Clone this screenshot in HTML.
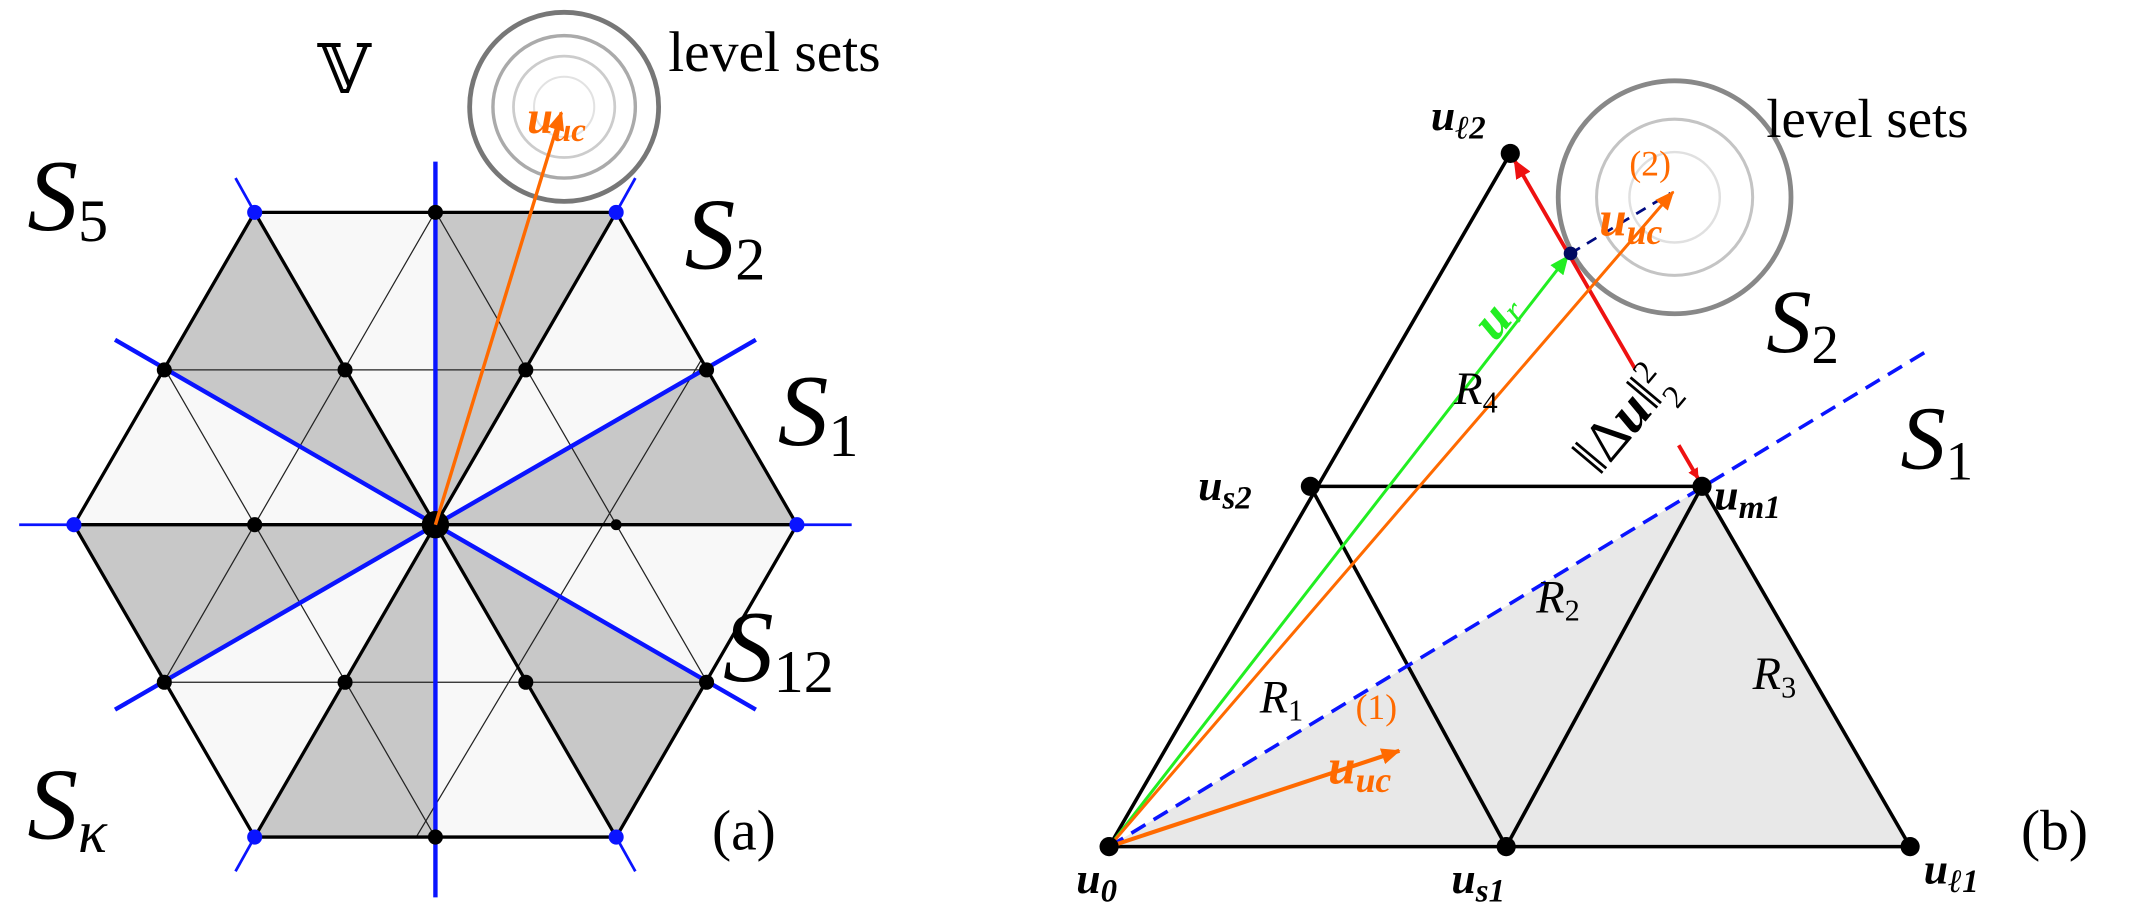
<!DOCTYPE html>
<html><head><meta charset="utf-8"><style>
html,body{margin:0;padding:0;background:#fff;width:2147px;height:922px;overflow:hidden;}
svg{display:block;}
text{font-family:"Liberation Serif","DejaVu Serif",serif;}
.b{font-weight:bold;font-style:italic;}
.s{font-style:italic;}
</style></head><body>
<svg width="2147" height="922" viewBox="0 0 1568 673" preserveAspectRatio="none" xmlns="http://www.w3.org/2000/svg">
<defs>
<clipPath id="hx"><polygon points="582,383 450,155 186,155 54,383 186,611 450,611"/></clipPath>
<marker id="ar" markerWidth="8" markerHeight="8" refX="7" refY="4" orient="auto" markerUnits="userSpaceOnUse"><path d="M0,0 L8,4 L0,8 z" fill="#ee1111"/></marker>
<marker id="ao2" markerWidth="14" markerHeight="12" refX="13" refY="6" orient="auto" markerUnits="userSpaceOnUse"><path d="M0,0 L14,6 L0,12 z" fill="#ff6a00"/></marker>
<marker id="ag2" markerWidth="14" markerHeight="12" refX="13" refY="6" orient="auto" markerUnits="userSpaceOnUse"><path d="M0,0 L14,6 L0,12 z" fill="#22ee22"/></marker>
<marker id="ar2" markerWidth="14" markerHeight="12" refX="13" refY="6" orient="auto" markerUnits="userSpaceOnUse"><path d="M0,0 L14,6 L0,12 z" fill="#ee1111"/></marker>
</defs>

<!-- Panel (a) -->
<polygon points="582,383 450,155 186,155 54,383 186,611 450,611" fill="#f8f8f8"/>
<g clip-path="url(#hx)" fill="#c8c8c8">
<polygon points="318,383 818,383 801,254 751,133"/>
<polygon points="318,383 568,-50 447,-100 318,-117"/>
<polygon points="318,383 68,-50 -36,29 -115,133"/>
<polygon points="318,383 -182,383 -165,512 -115,633"/>
<polygon points="318,383 68,816 189,866 318,883"/>
<polygon points="318,383 568,816 672,737 751,633"/>
</g>
<g clip-path="url(#hx)" stroke="#222" stroke-width="0.9" fill="none">
<line x1="0" y1="270" x2="640" y2="270"/>
<line x1="0" y1="498" x2="640" y2="498"/>
<line x1="-55" y1="800" x2="465" y2="-100"/>
<line x1="191" y1="800" x2="729" y2="-100"/>
<line x1="-93" y1="-100" x2="427" y2="800"/>
<line x1="171" y1="-100" x2="691" y2="800"/>
</g>
<g stroke="#000" stroke-width="2.4" fill="none">
<line x1="54" y1="383" x2="582" y2="383"/>
<line x1="186" y1="155" x2="450" y2="611"/>
<line x1="450" y1="155" x2="186" y2="611"/>
<polygon points="582,383 450,155 186,155 54,383 186,611 450,611"/>
</g>
<g stroke="#0a14ff" stroke-width="3.2">
<line x1="318" y1="118" x2="318" y2="655"/>
<line x1="84" y1="248" x2="552" y2="518"/>
<line x1="84" y1="518" x2="552" y2="248"/>
</g>
<g stroke="#0a14ff" stroke-width="2">
<line x1="54" y1="383" x2="14" y2="383"/>
<line x1="582" y1="383" x2="622" y2="383"/>
<line x1="186" y1="155" x2="172" y2="130"/>
<line x1="450" y1="155" x2="464" y2="130"/>
<line x1="186" y1="611" x2="172" y2="636"/>
<line x1="450" y1="611" x2="464" y2="636"/>
</g>
<g fill="#0a14ff">
<circle cx="54" cy="383" r="5.5"/><circle cx="582" cy="383" r="5.5"/>
<circle cx="186" cy="155" r="5.5"/><circle cx="450" cy="155" r="5.5"/>
<circle cx="186" cy="611" r="5.5"/><circle cx="450" cy="611" r="5.5"/>
</g>
<g fill="#000">
<circle cx="318" cy="155" r="5.5"/><circle cx="318" cy="611" r="5.5"/>
<circle cx="120" cy="270" r="5.5"/><circle cx="252" cy="270" r="5.5"/>
<circle cx="384" cy="270" r="5.5"/><circle cx="516" cy="270" r="5.5"/>
<circle cx="120" cy="498" r="5.5"/><circle cx="252" cy="498" r="5.5"/>
<circle cx="384" cy="498" r="5.5"/><circle cx="516" cy="498" r="5.5"/>
<circle cx="186" cy="383" r="5.5"/><circle cx="450" cy="383" r="4"/>
<circle cx="318" cy="383" r="10"/>
</g>
<!-- level sets (a) -->
<circle cx="412" cy="78" r="69" fill="#fff" stroke="#777" stroke-width="3.5"/>
<circle cx="412" cy="78" r="52" fill="none" stroke="#aaa" stroke-width="2.5"/>
<circle cx="412" cy="78" r="37" fill="none" stroke="#ccc" stroke-width="2"/>
<circle cx="412" cy="78" r="22" fill="none" stroke="#e2e2e2" stroke-width="1.5"/>
<line x1="318" y1="383" x2="410" y2="82" stroke="#ff6a00" stroke-width="2.5" marker-end="url(#ao2)"/>
<text x="385" y="97" class="b" font-size="34" fill="#ff6a00">u<tspan font-size="24" dy="6">uc</tspan></text>
<text x="488" y="52" font-size="42">level sets</text>
<text x="232" y="68" font-size="50" font-family="DejaVu Sans, sans-serif">𝕍</text>
<text x="20" y="168" class="s" font-size="74">S<tspan font-size="44" font-style="normal" dy="8">5</tspan></text>
<text x="500" y="196" class="s" font-size="74">S<tspan font-size="44" font-style="normal" dy="8">2</tspan></text>
<text x="568" y="325" class="s" font-size="74">S<tspan font-size="44" font-style="normal" dy="8">1</tspan></text>
<text x="528" y="497" class="s" font-size="74">S<tspan font-size="44" font-style="normal" dy="8">12</tspan></text>
<text x="20" y="612" class="s" font-size="74">S<tspan font-size="44" dy="10">κ</tspan></text>
<text x="520" y="620" font-size="42">(a)</text>

<!-- Panel (b) -->
<polygon points="810,618 1395,618 1243,356" fill="#e8e8e8"/>
<g stroke="#000" stroke-width="2.6" fill="none">
<line x1="810" y1="618" x2="1103" y2="112"/>
<line x1="810" y1="618" x2="1395" y2="618"/>
<line x1="1395" y1="618" x2="1243" y2="355"/>
<line x1="957" y1="355" x2="1243" y2="355"/>
<line x1="957" y1="355" x2="1100" y2="618"/>
<line x1="1100" y1="618" x2="1243" y2="355"/>
</g>
<line x1="810" y1="618" x2="1411" y2="254" stroke="#0a14ff" stroke-width="2.6" stroke-dasharray="12,7"/>
<circle cx="1223" cy="144" r="85" fill="none" stroke="#888" stroke-width="3.5"/>
<circle cx="1223" cy="144" r="57" fill="none" stroke="#c4c4c4" stroke-width="2.2"/>
<circle cx="1223" cy="144" r="33" fill="none" stroke="#e0e0e0" stroke-width="1.8"/>
<line x1="1194" y1="269" x2="1106" y2="117" stroke="#ee1111" stroke-width="2.8" marker-end="url(#ar2)"/>
<line x1="1226" y1="325" x2="1240" y2="349" stroke="#ee1111" stroke-width="2.8" marker-end="url(#ar)"/>
<line x1="1147" y1="185" x2="1220" y2="141" stroke="#000a80" stroke-width="2" stroke-dasharray="8,6"/>
<line x1="810" y1="618" x2="1145" y2="187" stroke="#22ee22" stroke-width="2.2" marker-end="url(#ag2)"/>
<line x1="810" y1="618" x2="1222" y2="140" stroke="#ff6a00" stroke-width="2.2" marker-end="url(#ao2)"/>
<line x1="810" y1="618" x2="1022" y2="548" stroke="#ff6a00" stroke-width="3" marker-end="url(#ao2)"/>
<circle cx="1147" cy="185" r="5" fill="#000a60"/>
<g fill="#000">
<circle cx="810" cy="618" r="7"/><circle cx="1100" cy="618" r="7"/>
<circle cx="1395" cy="618" r="7"/><circle cx="957" cy="355" r="7"/>
<circle cx="1243" cy="355" r="7"/><circle cx="1103" cy="112" r="7"/>
</g>
<text x="1290" y="100" font-size="40">level sets</text>
<text x="1045" y="95" class="b" font-size="32">u<tspan font-size="24" dy="6">ℓ2</tspan></text>
<text x="875" y="365" class="b" font-size="32">u<tspan font-size="24" dy="6">s2</tspan></text>
<text x="1252" y="372" class="b" font-size="32">u<tspan font-size="24" dy="6">m1</tspan></text>
<text x="786" y="652" class="b" font-size="32">u<tspan font-size="24" dy="6">0</tspan></text>
<text x="1060" y="652" class="b" font-size="32">u<tspan font-size="24" dy="6">s1</tspan></text>
<text x="1405" y="645" class="b" font-size="32">u<tspan font-size="24" dy="6">ℓ1</tspan></text>
<text x="1476" y="620" font-size="42">(b)</text>
<text x="1168" y="172" class="b" font-size="36" fill="#ff6a00">u<tspan font-size="26" dy="6">uc</tspan></text>
<text x="1190" y="128" font-size="26" fill="#ff6a00">(2)</text>
<text x="970" y="572" class="b" font-size="36" fill="#ff6a00">u<tspan font-size="26" dy="6">uc</tspan></text>
<text x="990" y="525" font-size="26" fill="#ff6a00">(1)</text>
<text transform="translate(1092,250) rotate(-50)" class="b" font-size="38" fill="#22ee22">u<tspan font-size="26" font-weight="normal" dy="4">r</tspan></text>
<text x="1062" y="295" class="s" font-size="34">R<tspan font-size="22" font-style="normal" dy="6">4</tspan></text>
<text x="1122" y="447" class="s" font-size="34">R<tspan font-size="22" font-style="normal" dy="6">2</tspan></text>
<text x="920" y="520" class="s" font-size="34">R<tspan font-size="22" font-style="normal" dy="6">1</tspan></text>
<text x="1280" y="503" class="s" font-size="34">R<tspan font-size="22" font-style="normal" dy="6">3</tspan></text>
<text transform="translate(1168,348) rotate(-50)" font-size="42">‖Δ<tspan class="b">u</tspan>‖<tspan font-size="24" dy="-16">2</tspan><tspan font-size="24" dx="-12" dy="28">2</tspan></text>
<text x="1290" y="257" class="s" font-size="66">S<tspan font-size="40" font-style="normal" dy="8">2</tspan></text>
<text x="1388" y="342" class="s" font-size="66">S<tspan font-size="40" font-style="normal" dy="8">1</tspan></text>
</svg>
</body></html>
